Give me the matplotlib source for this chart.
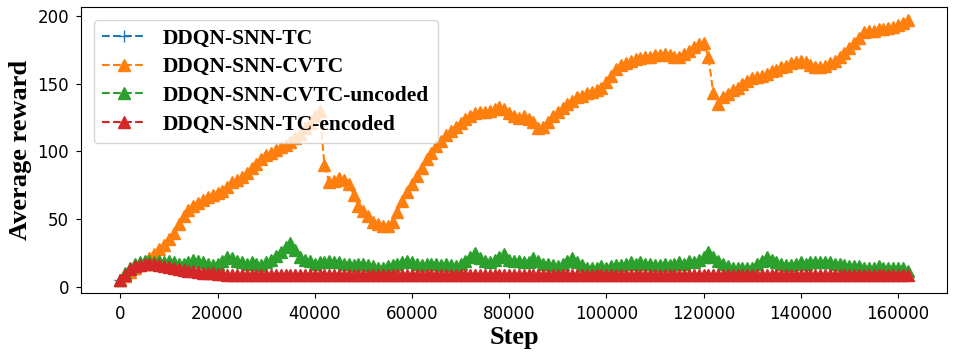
import numpy as np
import matplotlib.pyplot as plt

# pasos de entrenamiento (cada 1000)
steps = np.arange(0, 163000, 1000)

# DDQN-SNN-CVTC (naranja)
cvtc = [5, 8, 11, 14, 16, 18, 21, 24, 28, 31,
        35, 40, 46, 52, 57, 60, 62, 64, 66, 68,
        69, 71, 74, 77, 79, 81, 84, 88, 91, 94,
        97, 99, 101, 103, 105, 107, 110, 113, 117, 121,
        126, 130, 90, 77, 78, 80, 79, 76, 68, 60,
        56, 52, 48, 46, 45, 45, 48, 55, 63, 70,
        76, 82, 88, 94, 99, 104, 108, 112, 115, 118,
        121, 124, 126, 128, 129, 129, 130, 131, 133, 131,
        128, 126, 125, 126, 124, 122, 117, 118, 122, 126,
        129, 132, 135, 137, 140, 141, 143, 144, 145, 147,
        151, 156, 161, 164, 165, 167, 168, 169, 170, 170,
        171, 171, 172, 171, 170, 170, 172, 174, 177, 179,
        180, 170, 143, 135, 140, 142, 145, 147, 150, 152,
        154, 155, 156, 157, 159, 160, 162, 163, 165, 166,
        167, 166, 164, 162, 162, 163, 165, 167, 170, 173,
        176, 180, 184, 188, 189, 189, 190, 190, 191, 192,
        193, 195, 197]

# DDQN-SNN-CVTC-uncoded (verde)
cvtc_uncoded = [5, 10, 14, 17, 18, 19, 19, 18, 19, 18,
                19, 18, 17, 17, 18, 20, 19, 18, 17, 16,
                17, 19, 22, 21, 19, 18, 17, 18, 17, 16,
                18, 20, 23, 26, 29, 32, 27, 22, 20, 19,
                17, 18, 18, 19, 18, 18, 17, 17, 16, 17,
                17, 16, 15, 14, 14, 15, 16, 17, 18, 19,
                18, 17, 16, 17, 17, 17, 16, 17, 16, 15,
                17, 19, 22, 25, 21, 19, 18, 20, 22, 24,
                20, 19, 19, 18, 18, 21, 19, 17, 17, 16,
                15, 17, 19, 21, 18, 16, 14, 14, 14, 15,
                14, 15, 16, 16, 17, 18, 17, 18, 17, 17,
                16, 16, 17, 16, 17, 18, 17, 19, 18, 20,
                22, 26, 22, 19, 17, 15, 14, 14, 14, 14,
                14, 17, 19, 22, 20, 18, 17, 16, 16, 17,
                18, 17, 18, 18, 18, 18, 18, 17, 17, 16,
                15, 15, 15, 14, 14, 14, 15, 14, 14, 14,
                14, 14, 12]

# DDQN-SNN-TC-encoded (rojo)
tc_encoded = [5, 9, 13, 15, 16, 17, 17, 16.5, 16, 15,
              14.5, 14, 13, 12.5, 12, 11.5, 11, 10.5, 10, 10,
              9.5, 9.5, 9, 9, 9, 9, 8.5, 8.5, 8.5, 8.5,
              8.5, 8.5, 8.5, 8.5, 8.5, 8.5, 8.5, 8.5, 8.5, 8.5,
              8.5, 8.5, 8.5, 8.5, 8.5, 8.5, 8.5, 8.5, 8.5, 8.5,
              8.5, 8.5, 8.5, 8.5, 8.5, 8.5, 8.5, 8.5, 8.5, 8.5,
              8.5, 8.5, 8.5, 8.5, 8.5, 8.5, 8.5, 8.5, 8.5, 8.5,
              8.5, 8.5, 8.5, 8.5, 8.5, 8.5, 8.5, 8.5, 8.5, 8.5,
              8.5, 8.5, 8.5, 8.5, 8.5, 8.5, 8.5, 8.5, 8.5, 8.5,
              8.5, 8.5, 8.5, 8.5, 8.5, 8.5, 8.5, 8.5, 8.5, 8.5,
              8.5, 8.5, 8.5, 8.5, 8.5, 8.5, 8.5, 8.5, 8.5, 8.5,
              8.5, 8.5, 8.5, 8.5, 8.5, 8.5, 8.5, 8.5, 8.5, 8.5,
              8.5, 8.5, 8.5, 8.5, 8.5, 8.5, 8.5, 8.5, 8.5, 8.5,
              8.5, 8.5, 8.5, 8.5, 8.5, 8.5, 8.5, 8.5, 8.5, 8.5,
              8.5, 8.5, 8.5, 8.5, 8.5, 8.5, 8.5, 8.5, 8.5, 8.5,
              8.5, 8.5, 8.5, 8.5, 8.5, 8.5, 8.5, 8.5, 8.5, 8.5,
              8.5, 8.5, 8.5]

# DDQN-SNN-TC (azul), queda tapada por la curva roja
tc = list(tc_encoded)

fig = plt.figure(figsize=(9.57, 3.58), dpi=100)
ax = fig.add_axes([0.0846, 0.1816, 0.905, 0.7988])

ms = 8.5
ax.plot(steps, tc, '--+', color='tab:blue', ms=ms, label='DDQN-SNN-TC')
ax.plot(steps, cvtc, '--^', color='tab:orange', ms=ms, label='DDQN-SNN-CVTC')
ax.plot(steps, cvtc_uncoded, '--^', color='tab:green', ms=ms, label='DDQN-SNN-CVTC-uncoded')
ax.plot(steps, tc_encoded, '--^', color='tab:red', ms=ms, label='DDQN-SNN-TC-encoded')

ax.set_xticks(np.arange(0, 160001, 20000))
ax.set_yticks([0, 50, 100, 150, 200])
ax.tick_params(labelsize=12, pad=5)

serif_bold = {'family': 'Liberation Serif', 'weight': 'bold'}
ax.set_xlabel('Step', fontdict=serif_bold, fontsize=19, labelpad=2)
ax.set_ylabel('Average reward', fontdict=serif_bold, fontsize=19, labelpad=4)

ax.legend(loc='upper left', prop={'family': 'Liberation Serif', 'weight': 'bold', 'size': 15.5},
          borderaxespad=0.6, labelspacing=0.4, handlelength=2.0)

plt.savefig('out.png', dpi=100)
